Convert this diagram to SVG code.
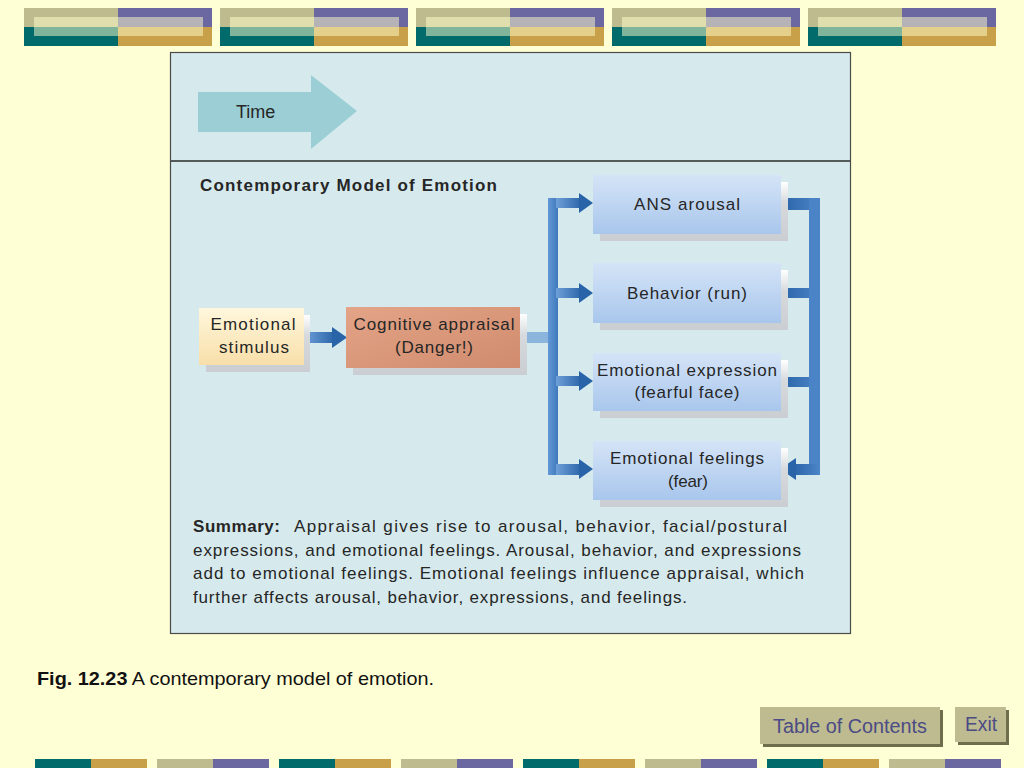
<svg xmlns="http://www.w3.org/2000/svg" width="1024" height="768" viewBox="0 0 1024 768">
<style>
.t{font-family:"Liberation Sans",Arial,sans-serif;fill:#262626}
.lbl{font-size:17px;text-anchor:middle}
.sum{font-size:17px}
.btn{font-family:"Liberation Sans",Arial,sans-serif;font-size:20px;fill:#4B4B86}
</style>
<defs>
<linearGradient id="gBlue" x1="0" y1="0" x2="0" y2="1"><stop offset="0" stop-color="#D5E4F7"/><stop offset="1" stop-color="#A8C6EC"/></linearGradient>
<linearGradient id="gStim" x1="0" y1="0" x2="0" y2="1"><stop offset="0" stop-color="#FFF7DC"/><stop offset="1" stop-color="#F8DFAA"/></linearGradient>
<linearGradient id="gCog" x1="0" y1="0" x2="1" y2="1"><stop offset="0" stop-color="#E4A487"/><stop offset="1" stop-color="#D08B6E"/></linearGradient>
<linearGradient id="gShadow" x1="0" y1="0" x2="0" y2="1"><stop offset="0" stop-color="#FFFFFF"/><stop offset="0.35" stop-color="#D6DADD"/><stop offset="1" stop-color="#CACED2"/></linearGradient>
<linearGradient id="gArrowR" x1="0" y1="0" x2="1" y2="0"><stop offset="0" stop-color="#6E9FD8"/><stop offset="1" stop-color="#2A64A8"/></linearGradient>
<linearGradient id="gArrowL" x1="1" y1="0" x2="0" y2="0"><stop offset="0" stop-color="#4C86C8"/><stop offset="1" stop-color="#2A64A8"/></linearGradient>
<linearGradient id="gBus" x1="0" y1="0" x2="1" y2="0"><stop offset="0" stop-color="#6398D6"/><stop offset="1" stop-color="#3E78BC"/></linearGradient>
<g id="band">
<rect x="0" y="0" width="94" height="19" fill="#BEBC8F"/>
<rect x="94" y="0" width="94" height="19" fill="#6B67A1"/>
<rect x="0" y="19" width="94" height="19" fill="#016A6A"/>
<rect x="94" y="19" width="94" height="19" fill="#C8A04A"/>
<rect x="10" y="9" width="169" height="19" fill="#FFFFCC" opacity="0.5"/>
</g>
<g id="strip">
<rect x="0" y="0" width="56" height="9" fill="#016A6A"/>
<rect x="56" y="0" width="56" height="9" fill="#C8A04A"/>
<rect x="122" y="0" width="56" height="9" fill="#BEBC8F"/>
<rect x="178" y="0" width="56" height="9" fill="#6B67A1"/>
</g>
</defs>
<rect width="1024" height="768" fill="#FFFFD5"/>
<g id="top-bands">
<use href="#band" x="24" y="8"/>
<use href="#band" x="220" y="8"/>
<use href="#band" x="416" y="8"/>
<use href="#band" x="612" y="8"/>
<use href="#band" x="808" y="8"/>
</g>
<g id="panel">
<rect x="170.5" y="52.5" width="680" height="581" fill="#D6EAED" stroke="#4A4A4A" stroke-width="1.2"/>
<line x1="171" y1="161" x2="850" y2="161" stroke="#2A2A2A" stroke-width="1.3"/>
</g>
<g id="time-arrow">
<polygon points="198,92 311,92 311,75 357,111 311,149 311,132 198,132" fill="#9BCFD5"/>
<text class="t" x="236" y="118" font-size="18" fill="#333">Time</text>
</g>
<text id="title" class="t" x="200" y="191" font-size="17" font-weight="bold" textLength="297" lengthAdjust="spacing" fill="#111">Contemporary Model of Emotion</text>
<g id="connectors">
<rect x="304" y="332" width="31" height="11" fill="url(#gArrowR)"/>
<polygon points="332,327 347,337.5 332,348" fill="#2A64A8"/>
<rect x="520" y="332" width="30" height="11" fill="#8CB5DE"/>
<rect x="548" y="198" width="10" height="277" fill="url(#gBus)"/>
<rect x="556" y="198" width="26" height="10" fill="url(#gArrowR)"/>
<polygon points="579,193 593,203 579,213" fill="#2A64A8"/>
<rect x="556" y="288" width="26" height="10" fill="url(#gArrowR)"/>
<polygon points="579,283 593,293 579,303" fill="#2A64A8"/>
<rect x="556" y="376" width="26" height="10" fill="url(#gArrowR)"/>
<polygon points="579,371 593,381 579,391" fill="#2A64A8"/>
<rect x="556" y="464" width="26" height="11" fill="url(#gArrowR)"/>
<polygon points="579,459 593,469 579,479" fill="#2A64A8"/>
<rect x="781" y="198" width="39" height="12" fill="url(#gArrowL)"/>
<rect x="781" y="288" width="39" height="10" fill="url(#gArrowL)"/>
<rect x="781" y="377" width="39" height="10" fill="url(#gArrowL)"/>
<rect x="809" y="198" width="11" height="277" fill="#4A84C6"/>
<rect x="793" y="464" width="27" height="11" fill="url(#gArrowL)"/>
<polygon points="796,458 780,469 796,480" fill="#2A64A8"/>
</g>
<g id="node-stimulus">
<rect x="206" y="315" width="104" height="57" fill="url(#gShadow)"/>
<rect x="199" y="308" width="105" height="57" fill="url(#gStim)"/>
<text class="t lbl" x="253" y="330" textLength="85" lengthAdjust="spacing">Emotional</text>
<text class="t lbl" x="254" y="353" textLength="70" lengthAdjust="spacing">stimulus</text>
</g>
<g id="node-appraisal">
<rect x="353" y="314" width="174" height="61" fill="url(#gShadow)"/>
<rect x="346" y="307" width="174" height="61" fill="url(#gCog)"/>
<text class="t lbl" x="434" y="330" textLength="161" lengthAdjust="spacing">Cognitive appraisal</text>
<text class="t lbl" x="434" y="353" textLength="78" lengthAdjust="spacing">(Danger!)</text>
</g>
<g id="node-ans">
<rect x="600" y="182" width="188" height="59" fill="url(#gShadow)"/>
<rect x="593" y="175" width="188" height="59" fill="url(#gBlue)"/>
<text class="t lbl" x="687" y="210" textLength="106" lengthAdjust="spacing">ANS arousal</text>
</g>
<g id="node-behavior">
<rect x="600" y="270" width="188" height="60" fill="url(#gShadow)"/>
<rect x="593" y="263" width="188" height="60" fill="url(#gBlue)"/>
<text class="t lbl" x="687" y="299" textLength="120" lengthAdjust="spacing">Behavior (run)</text>
</g>
<g id="node-expression">
<rect x="600" y="360" width="188" height="58" fill="url(#gShadow)"/>
<rect x="593" y="353" width="188" height="58" fill="url(#gBlue)"/>
<text class="t lbl" x="687" y="376" textLength="180" lengthAdjust="spacing">Emotional expression</text>
<text class="t lbl" x="687" y="398" textLength="105" lengthAdjust="spacing">(fearful face)</text>
</g>
<g id="node-feelings">
<rect x="600" y="448" width="188" height="59" fill="url(#gShadow)"/>
<rect x="593" y="441" width="188" height="59" fill="url(#gBlue)"/>
<text class="t lbl" x="687" y="464" textLength="154" lengthAdjust="spacing">Emotional feelings</text>
<text class="t lbl" x="688" y="487" textLength="40" lengthAdjust="spacing">(fear)</text>
</g>
<g id="summary">
<text class="t sum" x="193" y="532" font-weight="bold" textLength="87" lengthAdjust="spacing" fill="#111">Summary:</text>
<text class="t sum" x="294" y="532" textLength="493" lengthAdjust="spacing">Appraisal gives rise to arousal, behavior, facial/postural</text>
<text class="t sum" x="193" y="556" textLength="608" lengthAdjust="spacing">expressions, and emotional feelings. Arousal, behavior, and expressions</text>
<text class="t sum" x="193" y="579" textLength="611" lengthAdjust="spacing">add to emotional feelings. Emotional feelings influence appraisal, which</text>
<text class="t sum" x="193" y="603" textLength="494" lengthAdjust="spacing">further affects arousal, behavior, expressions, and feelings.</text>
</g>
<g id="caption">
<text x="37" y="685" font-family="Liberation Sans, Arial, sans-serif" font-size="18.5" fill="#111" textLength="397" lengthAdjust="spacingAndGlyphs"><tspan font-weight="bold">Fig. 12.23</tspan> A contemporary model of emotion.</text>
</g>
<g id="btn-toc">
<rect x="763" y="710" width="180" height="37" fill="#6E6D4C"/>
<rect x="760" y="707" width="180" height="37" fill="#BDBB8F"/>
<text class="btn" x="850" y="733" text-anchor="middle" textLength="154" lengthAdjust="spacingAndGlyphs">Table of Contents</text>
</g>
<g id="btn-exit">
<rect x="958" y="710" width="51" height="35" fill="#6E6D4C"/>
<rect x="955" y="707" width="51" height="35" fill="#BDBB8F"/>
<text class="btn" x="981" y="731" text-anchor="middle" textLength="32" lengthAdjust="spacingAndGlyphs">Exit</text>
</g>
<g id="bottom-strip">
<use href="#strip" x="35" y="759"/>
<use href="#strip" x="279" y="759"/>
<use href="#strip" x="523" y="759"/>
<use href="#strip" x="767" y="759"/>
</g>
</svg>
